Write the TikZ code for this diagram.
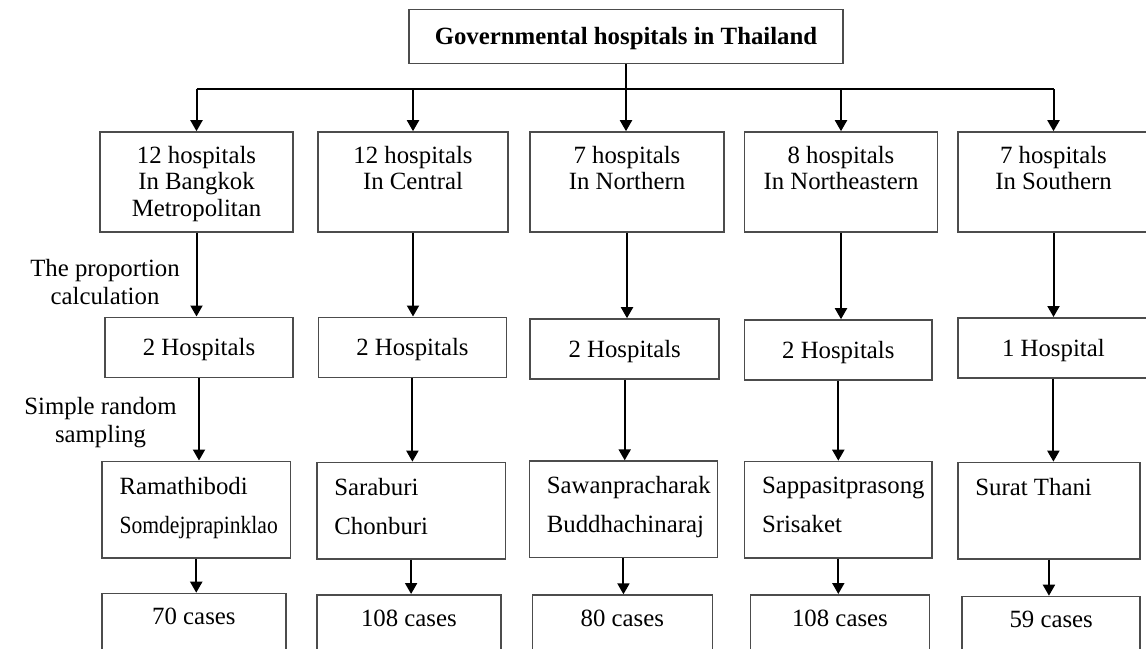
\documentclass[tikz,border=0pt]{standalone}
\usepackage{fontspec}
\setmainfont{Liberation Serif}
\usepackage{graphicx}
\usetikzlibrary{arrows.meta, positioning}

\tikzset{
	box/.style={rectangle, draw=black!70, line width=0.8pt, inner sep=0pt},
	region/.style={box, minimum height=49.9pt},
	pick/.style={box, minimum height=30pt, text depth=0pt,
		font=\fontsize{12.4}{14}\selectfont},
	site/.style={box, minimum height=48.2pt},
	count/.style={box, minimum height=30pt, anchor=north},
	toptext/.style={anchor=north, align=center, inner sep=0pt,
		font=\fontsize{12.4}{13.25}\selectfont},
	sitetext/.style={anchor=north west, align=left, inner sep=0pt,
		xshift=9pt, yshift=-8pt, font=\fontsize{12.4}{19.5}\selectfont},
	note/.style={align=center, inner sep=0pt,
		font=\fontsize{12.4}{14}\selectfont},
	link/.style={line width=1pt, -{Triangle[length=5.5pt, width=6pt]}}
}

\begin{document}
\begin{tikzpicture}[x=0.5pt, y=-0.5pt]
	\useasboundingbox (0,0) rectangle (1146,648);

	% Top box
	\node[box,
		  minimum width=217pt,
		  minimum height=27pt,
		  text depth=0pt,
		  font=\fontsize{12.4}{14}\selectfont\bfseries] (gov) at (626,36.3) {Governmental hospitals in Thailand};
	\coordinate (bar) at (0,89.3);

	% Regions
	\node[region,
		  minimum width=96.5pt,
		  label={[toptext, yshift=-7.3pt]north:12 hospitals\\In Bangkok\\Metropolitan}] (reg1) at (196.5,181.9) {};
	\node[region,
		  minimum width=94.8pt,
		  label={[toptext, yshift=-7.3pt]north:12 hospitals\\In Central}] (reg2) at (413,181.9) {};
	\node[region,
		  minimum width=96.8pt,
		  label={[toptext, yshift=-7.3pt]north:7 hospitals\\In Northern}] (reg3) at (627,181.9) {};
	\node[region,
		  minimum width=96.5pt,
		  label={[toptext, yshift=-7.3pt]north:8 hospitals\\In Northeastern}] (reg4) at (841,181.9) {};
	\node[region,
		  minimum width=95.5pt,
		  label={[toptext, yshift=-7.3pt]north:7 hospitals\\In Southern}] (reg5) at (1053.5,181.9) {};

	% Number of hospitals picked
	\node[pick, minimum width=94pt] (sel1) at (199,347.3) {2 Hospitals};
	\node[pick, minimum width=94.1pt] (sel2) at (412.4,347.3) {2 Hospitals};
	\node[pick, minimum width=94.5pt] (sel3) at (624.7,349) {2 Hospitals};
	\node[pick, minimum width=93.9pt] (sel4) at (838.3,350) {2 Hospitals};
	\node[pick, minimum width=95.6pt] (sel5) at (1053.4,347.8) {1 Hospital};

	% Hospitals
	\node[site,
		  minimum width=94.25pt,
		  label={[sitetext]north west:Ramathibodi\\{\scalebox{0.87}[1]{Somdejprapinklao}}}] (hos1) at (196.25,509.5) {};
	\node[site,
		  minimum width=94.3pt,
		  label={[sitetext]north west:Saraburi\\Chonburi}] (hos2) at (411.1,510.65) {};
	\node[site,
		  minimum width=94.15pt,
		  label={[sitetext]north west:Sawanpracharak\\Buddhachinaraj}] (hos3) at (623.45,509.35) {};
	\node[site,
		  minimum width=93.9pt,
		  label={[sitetext]north west:Sappasitprasong\\Srisaket}] (hos4) at (838.3,509.7) {};
	\node[site,
		  minimum width=91.15pt,
		  label={[sitetext]north west:Surat Thani}] (hos5) at (1048.95,510.65) {};

	% Cases
	\node[count,
		  minimum width=91.9pt,
		  label={[toptext, yshift=-7.6pt]north:70 cases}] (cas1) at (193.9,592.7) {};
	\node[count,
		  minimum width=92.1pt,
		  label={[toptext, yshift=-7.6pt]north:108 cases}] (cas2) at (408.9,594) {};
	\node[count,
		  minimum width=90pt,
		  label={[toptext, yshift=-7.6pt]north:80 cases}] (cas3) at (622.3,594.3) {};
	\node[count,
		  minimum width=89.35pt,
		  label={[toptext, yshift=-7.6pt]north:108 cases}] (cas4) at (839.95,594) {};
	\node[count,
		  minimum width=88.95pt,
		  label={[toptext, yshift=-7.6pt]north:59 cases}] (cas5) at (1051.15,595.7) {};

	% Side notes
	\node[note] (prop) at (105,282) {The proportion\\calculation};
	\node[note] (rand) at (100.5,422.3) {Simple random\\sampling};

	% Connectors
	\draw[line width=1pt] (reg1.north |- bar) -- (reg5.north |- bar);
	\path[link]
		(gov.south) edge (gov.south |- reg3.north)
		(reg1.north |- bar) edge (reg1.north)
		(reg2.north |- bar) edge (reg2.north)
		(reg4.north |- bar) edge (reg4.north)
		(reg5.north |- bar) edge (reg5.north)
		(reg1.south) edge (reg1.south |- sel1.north)
		(reg2.south) edge (reg2.south |- sel2.north)
		(reg3.south) edge (reg3.south |- sel3.north)
		(reg4.south) edge (reg4.south |- sel4.north)
		(reg5.south) edge (reg5.south |- sel5.north)
		(sel1.south) edge (sel1.south |- hos1.north)
		(sel2.south) edge (sel2.south |- hos2.north)
		(sel3.south) edge (sel3.south |- hos3.north)
		(sel4.south) edge (sel4.south |- hos4.north)
		(sel5.south) edge (sel5.south |- hos5.north)
		(hos1.south) edge (hos1.south |- cas1.north)
		(hos2.south) edge (hos2.south |- cas2.north)
		(hos3.south) edge (hos3.south |- cas3.north)
		(hos4.south) edge (hos4.south |- cas4.north)
		(hos5.south) edge (hos5.south |- cas5.north);
\end{tikzpicture}
\end{document}
